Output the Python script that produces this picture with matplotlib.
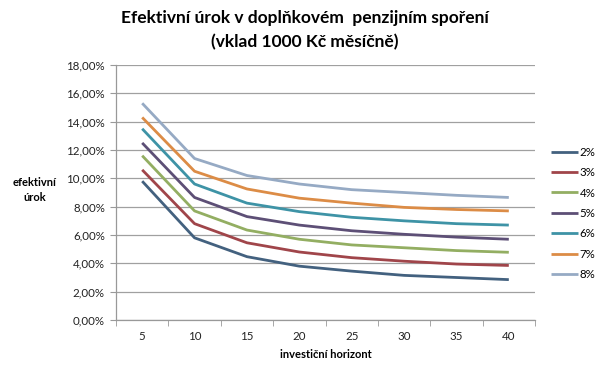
import matplotlib
matplotlib.use("Agg")
import matplotlib.pyplot as plt
import numpy as np

plt.rcParams['font.family'] = ['Lato', 'DejaVu Sans']

horizons = [5, 10, 15, 20, 25, 30, 35, 40]
series_names = ["2%", "3%", "4%", "5%", "6%", "7%", "8%"]
r2 = [9.8, 5.8, 4.47, 3.8, 3.45, 3.15, 3.0, 2.85]
r3 = [10.6, 6.8, 5.45, 4.8, 4.4, 4.15, 3.95, 3.85]
r4 = [11.6, 7.7, 6.35, 5.7, 5.3, 5.1, 4.9, 4.78]
r5 = [12.5, 8.65, 7.3, 6.7, 6.3, 6.05, 5.85, 5.7]
r6 = [13.5, 9.6, 8.25, 7.65, 7.25, 7.0, 6.8, 6.7]
r7 = [14.3, 10.5, 9.25, 8.6, 8.25, 7.95, 7.8, 7.7]
r8 = [15.3, 11.4, 10.2, 9.6, 9.2, 9.0, 8.8, 8.65]
series = [r2, r3, r4, r5, r6, r7, r8]
colors = ['#43617F', '#A0454A', '#93AE62', '#5D4F76', '#3E93A6', '#DC8C46', '#96AAC4']
yticks = [0, 2, 4, 6, 8, 10, 12, 14, 16, 18]
ytick_labels = ["0,00%", "2,00%", "4,00%", "6,00%", "8,00%", "10,00%", "12,00%", "14,00%", "16,00%", "18,00%"]

fig = plt.figure(figsize=(6.1, 3.71), dpi=100)
ax = fig.add_axes([116/610, 1-320/371, (535-116)/610, (320-65)/371])

x = np.arange(len(horizons))
for s, name, c in zip(series, series_names, colors):
    ax.plot(x, s, color=c, lw=2.0, label=name, solid_capstyle='butt')

ax.set_xlim(-0.5, len(horizons) - 0.5)
ax.set_ylim(0, 18)
ax.set_yticks(yticks)
ax.set_yticklabels(ytick_labels, fontsize=8.3, color='#222222')
ax.set_xticks(x)
ax.set_xticklabels([str(h) for h in horizons], fontsize=8.3, color='#222222')
ax.set_xticks(np.arange(-0.5, len(horizons)), minor=True)
ax.tick_params(axis='x', which='major', length=0, pad=8)
ax.tick_params(axis='x', which='minor', length=4, color='#999999', direction='out')
ax.tick_params(axis='y', length=4, color='#999999', direction='out', pad=4)
ax.grid(axis='y', color='#A0A0A0', lw=0.9)
ax.set_axisbelow(True)
for sp in ['top', 'right']:
    ax.spines[sp].set_visible(False)
for sp in ['left', 'bottom']:
    ax.spines[sp].set_color('#999999')
    ax.spines[sp].set_linewidth(0.9)

ax.set_xlabel("investiční horizont", fontsize=8, fontweight='bold', labelpad=5)
fig.text(35/610, 1-190/371, "efektivní\núrok", fontsize=8, fontweight='bold',
         ha='center', va='center', linespacing=1.5)

fig.text(0.5, 1-18/371, "Efektivní úrok v doplňkovém  penzijním spoření", fontsize=12.5,
         fontweight='bold', ha='center', va='center')
fig.text(0.5, 1-42/371, "(vklad 1000 Kč měsíčně)", fontsize=12.5,
         fontweight='bold', ha='center', va='center')

leg = fig.legend(loc='upper left', bbox_to_anchor=(546/610, 1-142/371), frameon=False,
                 fontsize=8.3, handlelength=2.4, handletextpad=0.1, labelspacing=0.82,
                 borderaxespad=0)

fig.savefig("out.png", dpi=100)
